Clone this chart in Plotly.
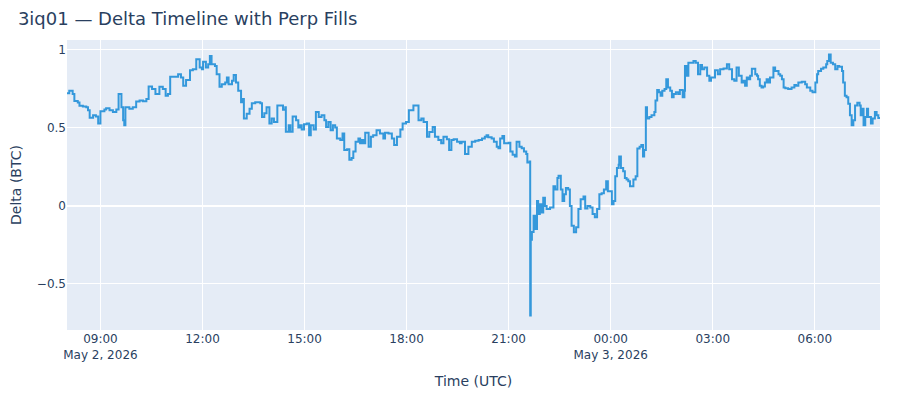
import plotly.graph_objects as go

# fill timestamps (UTC) and net delta after each fill
may2_times = [
    "08:01", "08:05", "08:11", "08:14", "08:20", "08:23", "08:29", "08:35", "08:38", "08:41",
    "08:47", "08:52", "08:56", "09:00", "09:07", "09:10", "09:16", "09:22", "09:28", "09:32",
    "09:37", "09:40", "09:42", "09:44", "09:51", "09:57", "10:03", "10:09", "10:15", "10:21",
    "10:25", "10:31", "10:37", "10:44", "10:50", "10:55", "10:59", "11:03", "11:11", "11:17",
    "11:22", "11:26", "11:31", "11:38", "11:43", "11:49", "11:55", "11:59", "12:01", "12:06",
    "12:10", "12:13", "12:16", "12:22", "12:25", "12:30", "12:34", "12:40", "12:43", "12:46",
    "12:52", "12:55", "12:59", "13:03", "13:08", "13:11", "13:13", "13:18", "13:23", "13:27",
    "13:33", "13:42", "13:45", "13:49", "13:53", "13:58", "14:02", "14:06", "14:12", "14:17",
    "14:22", "14:26", "14:27", "14:32", "14:35", "14:39", "14:45", "14:49", "14:52", "14:55",
    "14:59", "15:04", "15:08", "15:11", "15:16", "15:20", "15:25", "15:30", "15:35", "15:38",
    "15:42", "15:46", "15:50", "15:54", "15:57", "16:03", "16:07", "16:10", "16:15", "16:19",
    "16:23", "16:26", "16:30", "16:35", "16:38", "16:41", "16:44", "16:47", "16:53", "16:57",
    "17:01", "17:07", "17:13", "17:19", "17:22", "17:28", "17:34", "17:38", "17:43", "17:49",
    "17:53", "17:59", "18:04", "18:09", "18:12", "18:16", "18:21", "18:26", "18:30", "18:36",
    "18:40", "18:46", "18:50", "18:56", "19:01", "19:05", "19:11", "19:15", "19:19", "19:23",
    "19:29", "19:34", "19:37", "19:43", "19:49", "19:55", "20:01", "20:07", "20:13", "20:18",
    "20:21", "20:24", "20:30", "20:34", "20:39", "20:42", "20:45", "20:49", "20:52", "21:00",
    "21:03", "21:07", "21:11", "21:14", "21:19", "21:23", "21:27", "21:31", "21:33", "21:37",
    "21:38", "21:39", "21:41", "21:44", "21:47", "21:50", "21:52", "21:55", "21:58", "22:01",
    "22:04", "22:07", "22:13", "22:19", "22:22", "22:26", "22:28", "22:32", "22:35", "22:38",
    "22:41", "22:45", "22:48", "22:51", "22:55", "22:59", "23:03", "23:07", "23:12", "23:15",
    "23:19", "23:24", "23:28", "23:32", "23:36", "23:40", "23:44", "23:48", "23:52", "23:55",
]
may2_delta = [
    0.72, 0.736, 0.715, 0.67, 0.66, 0.64, 0.635, 0.63, 0.61, 0.563,
    0.578, 0.57, 0.525, 0.605, 0.616, 0.624, 0.61, 0.599, 0.616, 0.715,
    0.63, 0.546, 0.514, 0.63, 0.62, 0.63, 0.666, 0.673, 0.668, 0.683,
    0.763, 0.747, 0.715, 0.761, 0.747, 0.704, 0.715, 0.825, 0.825, 0.842,
    0.82, 0.768, 0.804, 0.867, 0.873, 0.937, 0.884, 0.873, 0.922, 0.884,
    0.905, 0.958, 0.905, 0.894, 0.842, 0.761, 0.778, 0.789, 0.82, 0.778,
    0.8, 0.837, 0.789, 0.736, 0.662, 0.683, 0.557, 0.589, 0.62, 0.656,
    0.662, 0.656, 0.567, 0.592, 0.63, 0.525, 0.557, 0.535, 0.641, 0.641,
    0.614, 0.63, 0.473, 0.514, 0.473, 0.571, 0.546, 0.5, 0.514, 0.487,
    0.521, 0.525, 0.451, 0.514, 0.487, 0.599, 0.567, 0.578, 0.546, 0.504,
    0.535, 0.483, 0.514, 0.5, 0.43, 0.42, 0.462, 0.356, 0.36, 0.293,
    0.304, 0.346, 0.409, 0.43, 0.399, 0.42, 0.399, 0.466, 0.377, 0.44,
    0.451, 0.483, 0.462, 0.43, 0.466, 0.462, 0.43, 0.388, 0.44, 0.487,
    0.525, 0.535, 0.61, 0.61, 0.641, 0.641, 0.546, 0.557, 0.535, 0.44,
    0.472, 0.504, 0.44, 0.42, 0.399, 0.44, 0.424, 0.356, 0.42, 0.424,
    0.409, 0.399, 0.409, 0.331, 0.377, 0.409, 0.415, 0.42, 0.43, 0.44,
    0.451, 0.437, 0.43, 0.409, 0.377, 0.367, 0.43, 0.445, 0.399, 0.403,
    0.346, 0.325, 0.314, 0.409, 0.377, 0.367, 0.346, 0.331, 0.276, 0.282,
    -0.705, -0.22, -0.17, -0.066, -0.15, 0.029, -0.055, 0.008, -0.044, 0.05,
    -0.003, -0.023, -0.013, 0.124, 0.103, 0.176, 0.191, 0.103, 0.029, 0.072,
    0.113, 0.103, -0.003, -0.129, -0.171, -0.139, -0.023, 0.04, 0.057, -0.019,
    -0.003, -0.013, -0.055, -0.076, -0.023, 0.072, 0.078, 0.103, 0.155, 0.092,
]
may3_times = [
    "00:02", "00:05", "00:08", "00:11", "00:14", "00:15", "00:18", "00:22", "00:25", "00:28",
    "00:31", "00:34", "00:37", "00:40", "00:44", "00:47", "00:51", "00:54", "00:57", "00:59",
    "01:02", "01:04", "01:08", "01:12", "01:17", "01:19", "01:22", "01:25", "01:28", "01:31",
    "01:35", "01:38", "01:41", "01:45", "01:48", "01:51", "01:55", "01:59", "02:02", "02:07",
    "02:10", "02:11", "02:14", "02:17", "02:22", "02:26", "02:30", "02:34", "02:38", "02:41",
    "02:45", "02:50", "02:54", "02:57", "03:01", "03:04", "03:09", "03:13", "03:19", "03:25",
    "03:29", "03:34", "03:38", "03:42", "03:46", "03:51", "03:54", "03:57", "04:00", "04:03",
    "04:06", "04:09", "04:12", "04:15", "04:18", "04:20", "04:23", "04:26", "04:29", "04:32",
    "04:35", "04:38", "04:41", "04:47", "04:50", "04:56", "04:59", "05:02", "05:05", "05:08",
    "05:13", "05:19", "05:24", "05:27", "05:31", "05:37", "05:43", "05:46", "05:52", "05:56",
    "06:01", "06:04", "06:06", "06:11", "06:15", "06:20", "06:22", "06:25", "06:28", "06:32",
    "06:36", "06:40", "06:43", "06:48", "06:50", "06:53", "06:56", "06:59", "07:02", "07:05",
    "07:08", "07:11", "07:15", "07:19", "07:21", "07:23", "07:26", "07:29", "07:32", "07:34",
    "07:39", "07:42", "07:46", "07:49", "07:52", "07:55",
]
may3_delta = [
    0.008, 0.029, 0.187, 0.24, 0.261, 0.314, 0.24, 0.219, 0.177, 0.166,
    0.155, 0.124, 0.124, 0.166, 0.187, 0.366, 0.377, 0.388, 0.314, 0.356,
    0.63, 0.557, 0.567, 0.578, 0.599, 0.673, 0.741, 0.726, 0.704, 0.736,
    0.747, 0.81, 0.757, 0.736, 0.694, 0.715, 0.726, 0.715, 0.741, 0.694,
    0.736, 0.894, 0.831, 0.915, 0.915, 0.926, 0.915, 0.842, 0.9, 0.873,
    0.884, 0.831, 0.8, 0.82, 0.82, 0.867, 0.842, 0.873, 0.879, 0.905,
    0.873, 0.81, 0.8, 0.884, 0.831, 0.789, 0.8, 0.768, 0.82, 0.81,
    0.831, 0.877, 0.877, 0.842, 0.831, 0.81, 0.768, 0.757, 0.763, 0.789,
    0.81, 0.789, 0.82, 0.884, 0.863, 0.842, 0.831, 0.81, 0.757, 0.751,
    0.747, 0.757, 0.772, 0.768, 0.789, 0.793, 0.778, 0.757, 0.736, 0.726,
    0.789, 0.842, 0.863, 0.877, 0.884, 0.905, 0.926, 0.968, 0.915, 0.905,
    0.873, 0.894, 0.889, 0.863, 0.789, 0.704, 0.694, 0.652, 0.578, 0.514,
    0.546, 0.641, 0.658, 0.641, 0.578, 0.62, 0.514, 0.567, 0.62, 0.567,
    0.525, 0.557, 0.599, 0.578, 0.561, 0.567,
]

times = ["2026-05-02 " + t for t in may2_times] + ["2026-05-03 " + t for t in may3_times]
delta = may2_delta + may3_delta

fig = go.Figure()
fig.add_trace(go.Scatter(
    x=times, y=delta,
    mode="lines",
    line=dict(color="#3498db", width=2, shape="hv"),
    name="Delta",
))

fig.update_layout(
    title=dict(text="3iq01 — Delta Timeline with Perp Fills", x=0.011, y=0.974,
               yanchor="middle", font=dict(size=18)),
    font=dict(family="DejaVu Sans"),
    xaxis_title="Time (UTC)",
    yaxis=dict(title="Delta (BTC)", automargin=False),
    showlegend=False,
    width=900,
    height=400,
    margin=dict(l=59, r=28, t=32, b=78),
)

fig.write_html("out.html")
